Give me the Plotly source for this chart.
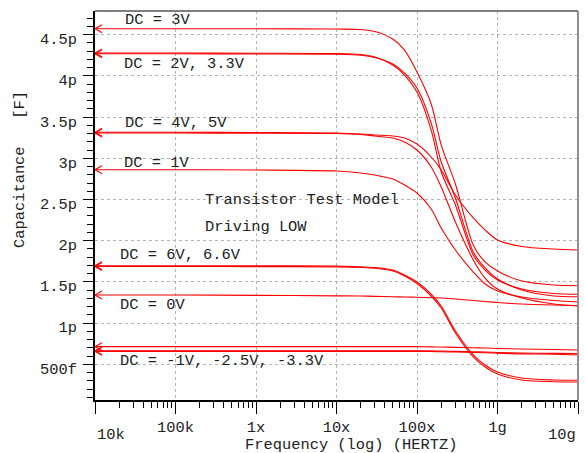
import plotly.graph_objects as go

# ---------------- data (capacitance in pF vs frequency in Hz) ----------------
freq = [1e4, 1e5, 1e6, 1e7, 2e7, 3e7, 5e7, 7e7, 1e8, 1.5e8, 2e8, 3e8, 5e8, 7e8, 1e9, 2e9, 5e9, 1e10]

c_3v   = [4.573, 4.573, 4.572, 4.569, 4.563, 4.539, 4.448, 4.314, 4.047, 3.659, 3.161, 2.688, 1.948, 1.742, 1.632, 1.511, 1.462, 1.454]
c_2v   = [4.278, 4.278, 4.276, 4.272, 4.260, 4.229, 4.132, 4.011, 3.805, 3.343, 2.834, 2.433, 1.826, 1.644, 1.523, 1.414, 1.359, 1.350]
c_3v3  = [4.269, 4.269, 4.267, 4.263, 4.251, 4.223, 4.144, 4.035, 3.853, 3.428, 2.955, 2.518, 1.863, 1.669, 1.536, 1.402, 1.329, 1.320]
c_4v   = [3.316, 3.316, 3.313, 3.307, 3.295, 3.283, 3.271, 3.246, 3.173, 3.016, 2.858, 2.555, 2.276, 2.131, 2.008, 1.930, 1.899, 1.887]
c_5v   = [3.307, 3.307, 3.305, 3.301, 3.289, 3.271, 3.246, 3.198, 3.101, 2.895, 2.652, 2.227, 1.766, 1.547, 1.413, 1.305, 1.232, 1.207]
c_1v   = [2.862, 2.862, 2.858, 2.846, 2.822, 2.797, 2.749, 2.676, 2.579, 2.385, 2.154, 1.887, 1.620, 1.475, 1.390, 1.317, 1.274, 1.256]
c_6v   = [1.697, 1.697, 1.695, 1.693, 1.683, 1.675, 1.644, 1.584, 1.499, 1.353, 1.208, 0.904, 0.613, 0.492, 0.407, 0.334, 0.310, 0.306]
c_6v6  = [1.687, 1.687, 1.686, 1.683, 1.675, 1.665, 1.632, 1.572, 1.481, 1.329, 1.183, 0.880, 0.589, 0.468, 0.383, 0.310, 0.289, 0.285]
c_0v   = [1.341, 1.341, 1.337, 1.331, 1.329, 1.325, 1.320, 1.317, 1.313, 1.308, 1.305, 1.292, 1.274, 1.262, 1.250, 1.232, 1.220, 1.214]
c_m1v  = [0.714, 0.714, 0.714, 0.714, 0.714, 0.714, 0.714, 0.714, 0.714, 0.711, 0.710, 0.706, 0.701, 0.698, 0.692, 0.686, 0.680, 0.674]
c_m2v5 = [0.665, 0.665, 0.665, 0.665, 0.665, 0.665, 0.665, 0.665, 0.665, 0.663, 0.661, 0.657, 0.652, 0.649, 0.643, 0.637, 0.633, 0.631]
c_m3v3 = [0.657, 0.657, 0.657, 0.657, 0.657, 0.657, 0.657, 0.657, 0.657, 0.655, 0.653, 0.649, 0.644, 0.640, 0.634, 0.627, 0.622, 0.613]

series = [c_3v, c_2v, c_3v3, c_4v, c_5v, c_1v, c_6v, c_6v6, c_0v, c_m1v, c_m2v5, c_m3v3]

x_tickvals = [1e4, 1e5, 1e6, 1e7, 1e8, 1e9, 1e10]
x_ticktext = ["", "100k", "1x", "10x", "100x", "1g", ""]
y_tickvals = [0.5, 1.0, 1.5, 2.0, 2.5, 3.0, 3.5, 4.0, 4.5]
y_ticktext = ["500f", "1p", "1.5p", "2p", "2.5p", "3p", "3.5p", "4p", "4.5p"]

labels = ["DC = 3V", "DC = 2V, 3.3V", "DC = 4V, 5V", "DC = 1V",
          "DC = 6V, 6.6V", "DC = 0V", "DC = -1V, -2.5V, -3.3V"]

# ---------------- figure ----------------
FONT = "Liberation Mono, Courier New, monospace"
FS = 15.4
TXT = "#222222"
RED = "#ff0000"

fig = go.Figure()
for s in series:
    fig.add_trace(go.Scatter(x=freq, y=s, mode="lines",
                             line=dict(color=RED, width=1.1, shape="spline", smoothing=0.8),
                             showlegend=False, hoverinfo="skip"))

# open chevron markers at the left axis for each trace
shapes = []
for s in series:
    shapes.append(dict(type="path", xref="x", yref="y", xsizemode="pixel", ysizemode="pixel",
                       xanchor=freq[0], yanchor=s[0], path="M 7,4 L 0,0 L 7,-4",
                       line=dict(color=RED, width=1.1), layer="above"))
# top / right frame in gray
shapes.append(dict(type="line", xref="paper", yref="paper", x0=0, x1=1, y0=1, y1=1,
                   line=dict(color="#808080", width=2), layer="above"))
shapes.append(dict(type="line", xref="paper", yref="paper", x0=1, x1=1, y0=0, y1=1,
                   line=dict(color="#909090", width=2), layer="above"))

x_minor = [k * 10 ** n for n in range(4, 10) for k in range(2, 10)]
y_minor = [round(0.1 * i, 2) for i in range(1, 48)]

ann_font = dict(family=FONT, size=FS, color=TXT)
label_pos = [(0.058, 0.977), (0.056, 0.8645), (0.058, 0.712), (0.056, 0.609),
             (0.0476, 0.3728), (0.0476, 0.2442), (0.0476, 0.1015)]
annotations = []
for t, (px, py) in zip(labels, label_pos):
    annotations.append(dict(text=t, x=px, y=py, xref="paper", yref="paper",
                            xanchor="left", yanchor="middle", showarrow=False, font=ann_font))
annotations += [
    dict(text="Transistor Test Model", x=0.2236, y=0.514, xref="paper", yref="paper",
         xanchor="left", yanchor="middle", showarrow=False, font=ann_font),
    dict(text="Driving LOW", x=0.2236, y=0.4447, xref="paper", yref="paper",
         xanchor="left", yanchor="middle", showarrow=False, font=ann_font),
    dict(text="Frequency (log) (HERTZ)", x=0.530, y=-0.1157, xref="paper", yref="paper",
         xanchor="center", yanchor="middle", showarrow=False, font=ann_font),
    dict(text="Capacitance   [F]", x=-0.1553, y=0.5938, xref="paper", yref="paper",
         xanchor="center", yanchor="middle", textangle=-90, showarrow=False, font=ann_font),
    dict(text="10k", x=0, y=-0.090, xref="paper", yref="paper",
         xanchor="left", yanchor="middle", showarrow=False, font=ann_font),
    dict(text="10g", x=1.0, y=-0.090, xref="paper", yref="paper",
         xanchor="right", yanchor="middle", showarrow=False, font=ann_font),
]

fig.update_layout(
    width=585, height=453,
    margin=dict(l=95, r=7, t=11, b=53),
    paper_bgcolor="white", plot_bgcolor="white",
    font=dict(family=FONT, size=FS, color=TXT),
    shapes=shapes, annotations=annotations,
    xaxis=dict(type="log", range=[4, 10], tickmode="array", tickvals=x_tickvals, ticktext=x_ticktext,
               ticks="outside", ticklen=12, tickwidth=1, tickcolor="black",
               showline=True, linecolor="black", linewidth=2,
               showgrid=True, gridcolor="#b4b4b4", gridwidth=1, griddash="3px,3px",
               zeroline=False, tickfont=dict(family=FONT, size=FS, color=TXT),
               minor=dict(tickmode="array", tickvals=x_minor, ticks="outside", ticklen=6,
                          tickcolor="black", tickwidth=1, showgrid=False)),
    yaxis=dict(range=[0.0667, 4.788], tickmode="array", tickvals=y_tickvals, ticktext=y_ticktext,
               ticks="outside", ticklen=10, tickwidth=1, tickcolor="black",
               showline=True, linecolor="black", linewidth=2,
               showgrid=True, gridcolor="#b4b4b4", gridwidth=1, griddash="3px,3px",
               zeroline=False, tickfont=dict(family=FONT, size=FS, color=TXT),
               ticklabelstandoff=3, ticklabelshift=4,
               minor=dict(tickmode="array", tickvals=y_minor, ticks="outside", ticklen=6,
                          tickcolor="black", tickwidth=1, showgrid=False)),
)

fig.write_html("out.html", config={"displayModeBar": False},
               post_script="document.body.style.margin='0';document.body.style.padding='0';")
